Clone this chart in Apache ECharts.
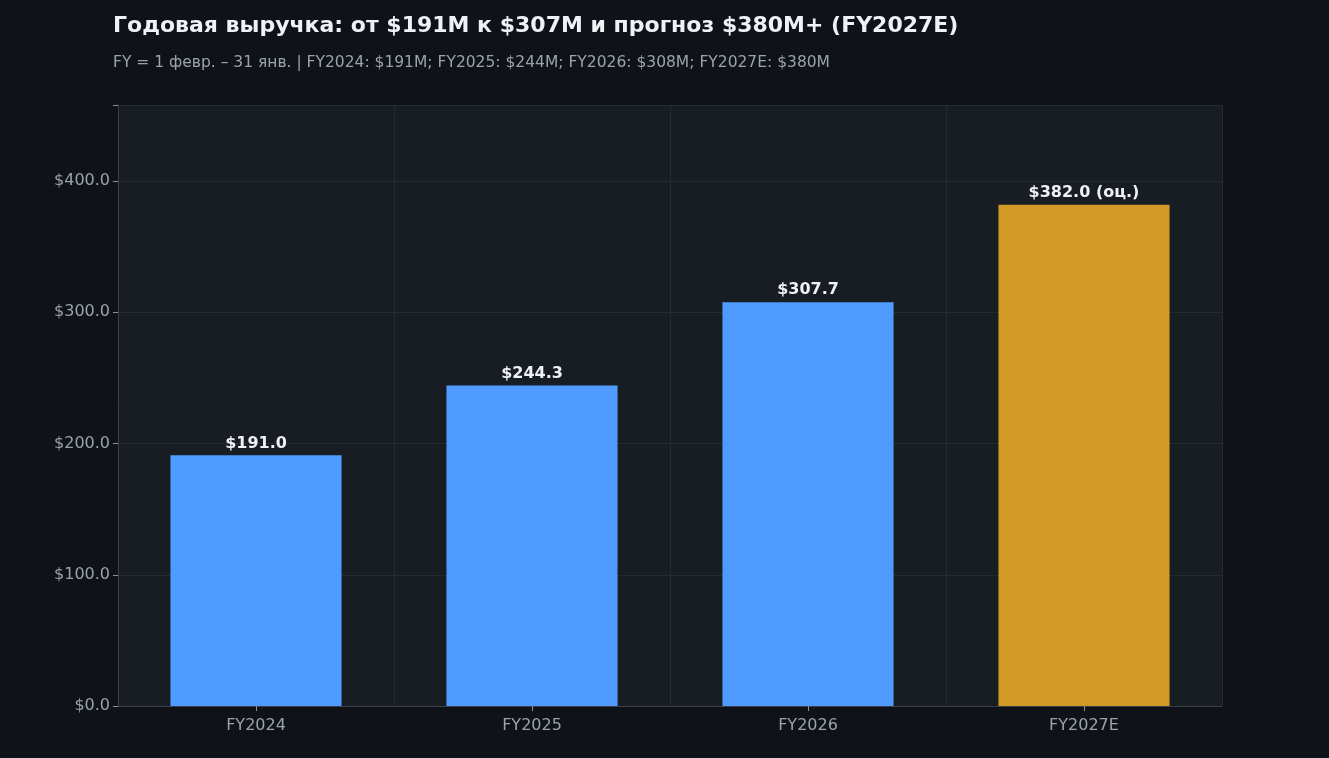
<!DOCTYPE html>
<html><head><meta charset="utf-8">
<script src="https://cdn.jsdelivr.net/npm/echarts@6/dist/echarts.min.js"></script>
<style>html,body{margin:0;background:#0f1317}#c{width:1329px;height:758px}</style>
</head><body><div id="c"></div>
<script>
const categories = ['FY2024','FY2025','FY2026','FY2027E'];
const values = [191.0, 244.3, 307.7, 382.0];
const labels = ['$191.0','$244.3','$307.7','$382.0 (оц.)'];
const colors = ['#4f9bff','#4f9bff','#4f9bff','#d19a24'];
const chart = echarts.init(document.getElementById('c'));
const F = 'DejaVu Sans';
chart.setOption({
  backgroundColor:'#0f1317',
  textStyle:{fontFamily:F},
  title:{text:'Годовая выручка: от $191M к $307M и прогноз $380M+ (FY2027E)',
    subtext:'FY = 1 февр. – 31 янв. | FY2024: $191M; FY2025: $244M; FY2026: $308M; FY2027E: $380M',
    left:108, top:10, itemGap:18,
    textStyle:{color:'#eef2f6',fontSize:22,fontWeight:'bold',fontFamily:F},
    subtextStyle:{color:'#9aa3ad',fontSize:15.5,fontFamily:F}},
  grid:{left:118,right:107,top:105,bottom:52,show:true,backgroundColor:'#181c23',borderWidth:0},
  xAxis:{type:'category',data:categories,
    axisLine:{lineStyle:{color:'#3a4049'}},
    axisTick:{show:true,alignWithLabel:true,lineStyle:{color:'#8a929c'}},
    axisLabel:{color:'#9aa3ad',fontSize:16,margin:12},
    splitLine:{show:true,lineStyle:{color:'#252a33'}}},
  yAxis:{type:'value',min:0,max:458,interval:100,
    axisLine:{show:true,lineStyle:{color:'#3a4049'}},
    axisTick:{show:true,lineStyle:{color:'#8a929c'}},
    axisLabel:{color:'#9aa3ad',fontSize:16,formatter:v=>v>450?'':'$'+v.toFixed(1)},
    splitLine:{lineStyle:{color:'#252a33'}}},
  series:[{type:'bar',barWidth:'62%',
    data:values.map((v,i)=>({value:v,itemStyle:{color:colors[i]},
      label:{show:true,position:'top',distance:4,formatter:labels[i],color:'#eef2f6',fontSize:16,fontWeight:'bold'}}))}]
});
</script></body></html>
